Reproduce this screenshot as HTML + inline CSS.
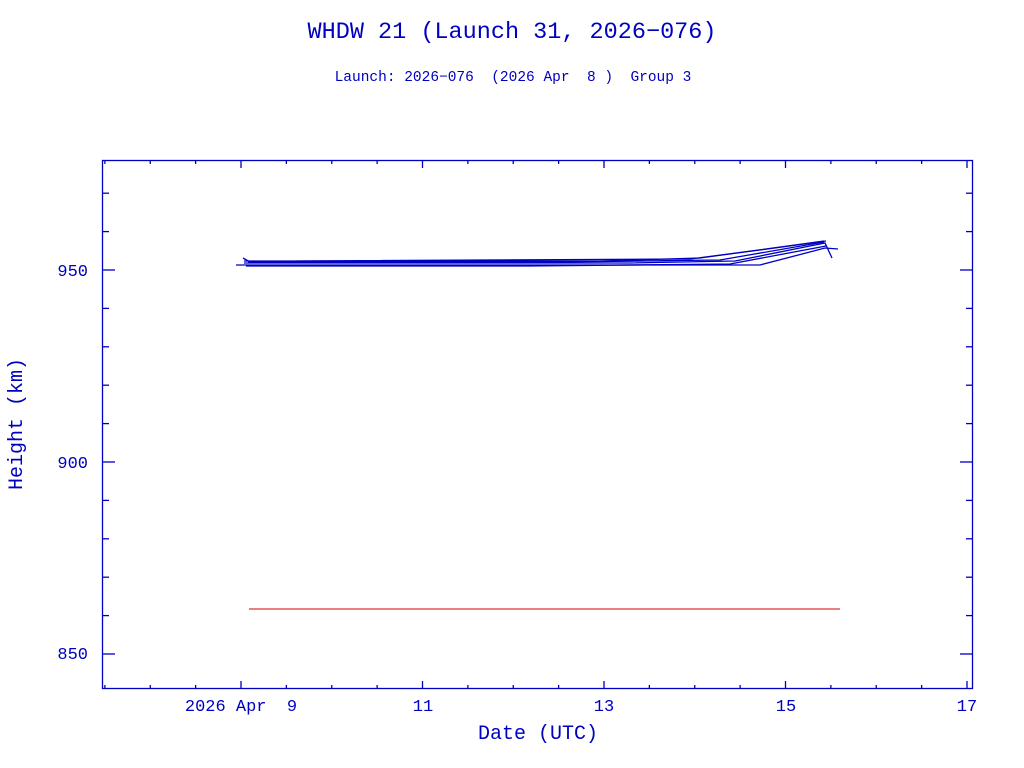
<!DOCTYPE html>
<html><head><meta charset="utf-8"><style>body{margin:0;background:#fff}svg{display:block}</style></head>
<body>
<svg id="s" width="1024" height="768" xmlns="http://www.w3.org/2000/svg" font-family="Liberation Mono, monospace" fill="#0000c0">
<text x="512" y="38" font-size="23.5" text-anchor="middle" xml:space="preserve">WHDW 21 (Launch 31, 2026−076)</text>
<text x="513" y="81" font-size="14.5" text-anchor="middle" xml:space="preserve">Launch: 2026−076  (2026 Apr  8 )  Group 3</text>
<rect x="102.5" y="160.5" width="870" height="528" fill="none" stroke="#0000c0" stroke-width="1.3"/>
<g id="ticks" stroke="#0000c0" stroke-width="1.3"></g>
<g font-size="17" text-anchor="middle">
<text x="241" y="711" xml:space="preserve">2026 Apr  9</text>
<text x="423" y="711">11</text>
<text x="604" y="711">13</text>
<text x="786" y="711">15</text>
<text x="967" y="711">17</text>
<text x="88" y="276" text-anchor="end">950</text>
<text x="88" y="468" text-anchor="end">900</text>
<text x="88" y="659" text-anchor="end">850</text>
</g>
<text x="538" y="739" font-size="20" text-anchor="middle">Date (UTC)</text>
<text transform="translate(22,424) rotate(-90)" font-size="20" text-anchor="middle">Height (km)</text>
<g fill="none" stroke="#0000c0" stroke-width="1.3">
<polyline points="236,265 520,265 760,265 825,248 838,249"/>
<polyline points="246,266 530,266 730,264 826,246"/>
<polyline points="244,263 630,263 735,261 825,243 832,258"/>
<polyline points="248,262 560,262 720,260 824,242"/>
<polyline points="244,261 600,261 700,258 824,241"/>
<polyline points="243,258 250,262 300,261 690,259 760,250 826,241"/>
</g>
<line x1="249" y1="609" x2="840" y2="609" stroke="#d00000" stroke-width="1"/>
</svg>
<script>
var g=document.getElementById('ticks'),h='';
function L(a,b,c,d){h+='<line x1="'+a+'" y1="'+b+'" x2="'+c+'" y2="'+d+'"/>';}
for(var d=7.5;d<=17.01;d+=0.5){var x=241+(d-9)*90.75;if(x<103||x>972)continue;var maj=(Math.round(d*2)%4==2);var l=maj?8:4;L(x,689,x,689-l);L(x,160,x,160+l);}
for(var k=850;k<=970;k+=10){var y=270+(950-k)*3.84;var l=(k%50==0)?12:6;L(103,y,103+l,y);L(972,y,972-l,y);}
g.innerHTML=h;
</script>
</body></html>
